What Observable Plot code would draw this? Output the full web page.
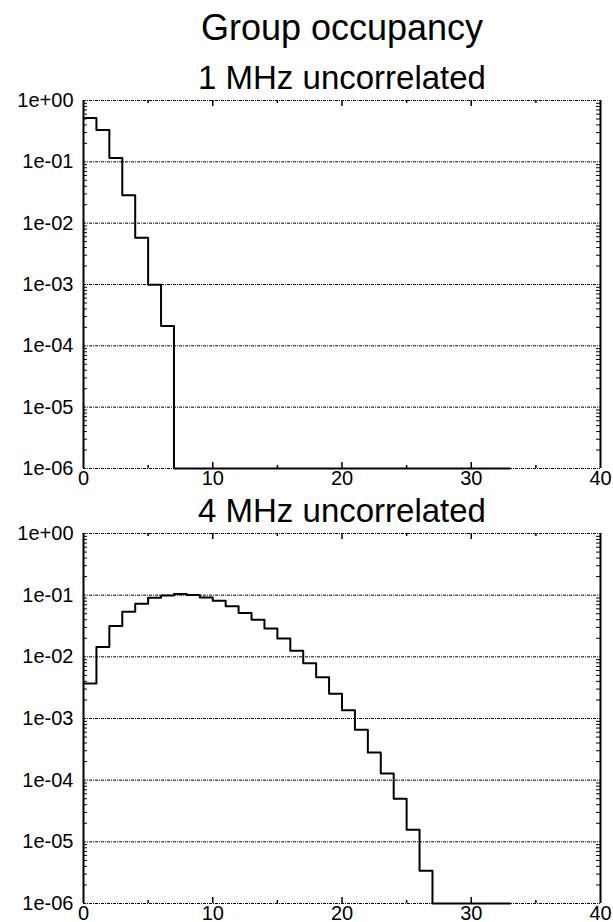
<!DOCTYPE html>
<html><head><meta charset="utf-8">
<script src="https://cdn.jsdelivr.net/npm/d3@7"></script>
<script src="https://cdn.jsdelivr.net/npm/@observablehq/plot@0.6"></script>
<style>
html,body{margin:0;padding:0;background:#fff;overflow:hidden;}
#root{position:relative;width:613px;height:922px;font-family:"Liberation Sans",Arial,sans-serif;color:#000;}
.t{position:absolute;white-space:nowrap;line-height:1;transform:translateX(-50%);}
.p{position:absolute;left:0;}
</style></head><body><div id="root"></div>
<script>
// ---- data ----
const mainTitle = "Group occupancy";
const panelTitles = ["1 MHz uncorrelated", "4 MHz uncorrelated"];
// fraction per group-occupancy bin (bin i spans [i, i+1)); 0 = empty bin
const occupancy1MHz = [0.52, 0.33, 0.115, 0.0286, 0.0058, 0.00099, 0.00021,
  0, 0, 0, 0, 0, 0, 0, 0, 0, 0, 0, 0, 0, 0, 0, 0, 0, 0, 0, 0, 0, 0, 0, 0, 0, 0];
const occupancy4MHz = [0.0037, 0.0145, 0.0315, 0.0536, 0.0723, 0.0904, 0.099, 0.104, 0.101,
  0.092, 0.081, 0.0664, 0.0516, 0.040, 0.0288, 0.0198, 0.0126, 0.0079, 0.00467, 0.00253,
  0.00136, 0.00066, 0.00028, 0.000128, 0.00005, 0.0000157, 0.0000034, 0, 0, 0, 0, 0, 0];
const yTicks = [1, 1e-1, 1e-2, 1e-3, 1e-4, 1e-5, 1e-6];
const yTickLabels = ["1e+00", "1e-01", "1e-02", "1e-03", "1e-04", "1e-05", "1e-06"];
const xTicks = [0, 10, 20, 30, 40];
const xTickLabels = ["0", "10", "20", "30", "40"];
const xMinorTicks = [5, 15, 25, 35];
const yMinorMultipliers = [2, 3, 4, 5, 6, 7, 8, 9];

// ---- drawing ----
const FLOOR = 1e-6; // empty bins sit on the lower frame of the log axis
const W = 613, ML = 83, MR = 13;
const yLab = new Map(yTicks.map((d, i) => [d, yTickLabels[i]]));
const xLab = new Map(xTicks.map((d, i) => [d, xTickLabels[i]]));
const yMinor = yTicks.slice(1).flatMap(d => yMinorMultipliers.map(k => d * k));

function steps(values) {
  const pts = values.map((v, i) => ({x: i, y: v > 0 ? v : FLOOR}));
  pts.push({x: values.length, y: pts[pts.length - 1].y});
  return pts;
}

function panel(values, height, marginTop, marginBottom) {
  const plotH = height - marginTop - marginBottom;
  const plotW = W - ML - MR;
  return Plot.plot({
    width: W, height, marginTop, marginBottom, marginLeft: ML, marginRight: MR,
    style: {fontFamily: "'Liberation Sans', Arial, sans-serif", fontSize: "20px", color: "#000", background: "transparent", overflow: "visible"},
    x: {domain: [0, 40]},
    y: {type: "log", domain: [1e-6, 1]},
    marks: [
      Plot.ruleY(yTicks, {stroke: "#000", strokeWidth: 1, strokeDasharray: "3,1,1,1"}),
      Plot.line(steps(values), {x: "x", y: "y", curve: "step-after", stroke: "#000", strokeWidth: 2}),
      Plot.ruleX([0, 40], {stroke: "#000", strokeWidth: 2}),
      Plot.ruleX(xTicks.slice(1, -1), {insetTop: plotH - 6, stroke: "#000", strokeWidth: 1.5}),
      Plot.ruleX(xTicks.slice(1, -1), {insetBottom: plotH - 6, stroke: "#000", strokeWidth: 1.5}),
      Plot.ruleX(xMinorTicks, {insetTop: plotH - 3, stroke: "#000", strokeWidth: 1.5}),
      Plot.ruleX(xMinorTicks, {insetBottom: plotH - 3, stroke: "#000", strokeWidth: 1.5}),
      Plot.ruleY(yMinor, {insetRight: plotW - 4, stroke: "#000", strokeWidth: 1}),
      Plot.ruleY(yMinor, {insetLeft: plotW - 4, stroke: "#000", strokeWidth: 1}),
      Plot.axisY({ticks: yTicks, tickFormat: d => yLab.get(d), tickSize: 0, tickPadding: 10, label: null}),
      Plot.axisX({ticks: xTicks, tickFormat: d => xLab.get(d), tickSize: 0, tickPadding: 2, label: null})
    ]
  });
}

const root = document.getElementById("root");
function addText(txt, size, top) {
  const d = document.createElement("div");
  d.className = "t";
  d.textContent = txt;
  d.style.fontSize = size + "px";
  d.style.left = "342px";
  d.style.top = top + "px";
  root.appendChild(d);
}
addText(mainTitle, 36, 9.5);
addText(panelTitles[0], 33, 61.4);
addText(panelTitles[1], 33, 493.8);

const p1 = panel(occupancy1MHz, 440, 40, 32);
p1.classList.add("p"); p1.style.top = "60px"; p1.style.width = W + "px";
root.appendChild(p1);
const p2 = panel(occupancy4MHz, 427, 38, 19);
p2.classList.add("p"); p2.style.top = "495px"; p2.style.width = W + "px";
root.appendChild(p2);
</script></body></html>
